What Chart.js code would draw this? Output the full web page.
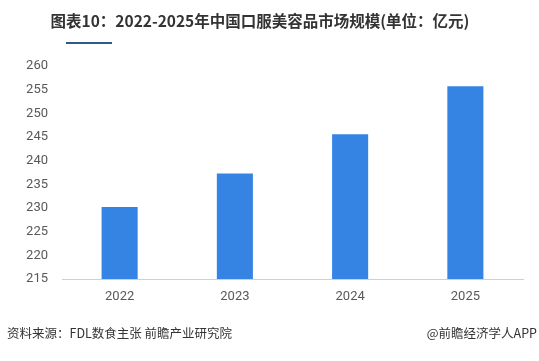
<html>
<head>
<meta charset="utf-8">
<script src="https://cdn.jsdelivr.net/npm/chart.js"></script>
<style>
  body { margin: 0; background: #fff; width: 539px; height: 361px; position: relative; overflow: hidden; }
  #title { position: absolute; left: 0; width: 520px; top: 9px; text-align: center; font-family: "Noto Sans CJK SC", sans-serif; font-weight: bold; font-size: 15.5px; color: #333; }
  #line { position: absolute; left: 66px; top: 42px; width: 46px; height: 2px; background: #2f5a8a; }
  #wrap { position: absolute; left: 0; top: 0; width: 539px; height: 361px; }
  .foot { position: absolute; top: 323px; font-family: "Noto Sans CJK SC", sans-serif; font-size: 12.5px; color: #333; }
</style>
<script type="text/javascript">
    // chart values
    var years = ['2022', '2023', '2024', '2025'];
    var marketSize = [230.2, 237.3, 245.6, 255.7];
    var yMin = 215, yMax = 260, yStep = 5;

    function loadChart() {
        new Chart(document.getElementById('myChart'), {
            type: 'bar',
            data: {
                labels: years,
                datasets: [{
                    label: '市场规模',
                    data: marketSize,
                    backgroundColor: '#3584e4',
                    barPercentage: 0.313,
                    categoryPercentage: 1
                }]
            },
            options: {
                responsive: false,
                animation: false,
                layout: { padding: { left: 0, right: 16, top: 66, bottom: 0 } },
                plugins: { legend: { display: false }, tooltip: { enabled: false } },
                scales: {
                    x: {
                        grid: { display: false, drawTicks: false },
                        border: { display: true, color: '#d0d0d0', width: 1 },
                        ticks: { padding: 10, color: '#595959', font: { family: 'Roboto', size: 13 } },
                        afterFit: function (s) { s.height = 82; }
                    },
                    y: {
                        min: yMin, max: yMax,
                        grid: { display: false, drawTicks: false },
                        border: { display: false },
                        ticks: { stepSize: yStep, padding: 14, color: '#595959', font: { family: 'Roboto', size: 13 } },
                        afterFit: function (s) { s.width = 62; }
                    }
                }
            }
        });
    }
</script>
</head>
<body onLoad="loadChart()">
    <div id="wrap"><canvas id="myChart" width="539" height="361"></canvas></div>
    <div id="title">图表10：2022-2025年中国口服美容品市场规模(单位：亿元)</div>
    <div id="line"></div>
    <div class="foot" style="left:7px;">资料来源：FDL数食主张 前瞻产业研究院</div>
    <div class="foot" style="right:2px;">@前瞻经济学人APP</div>
</body>
</html>
